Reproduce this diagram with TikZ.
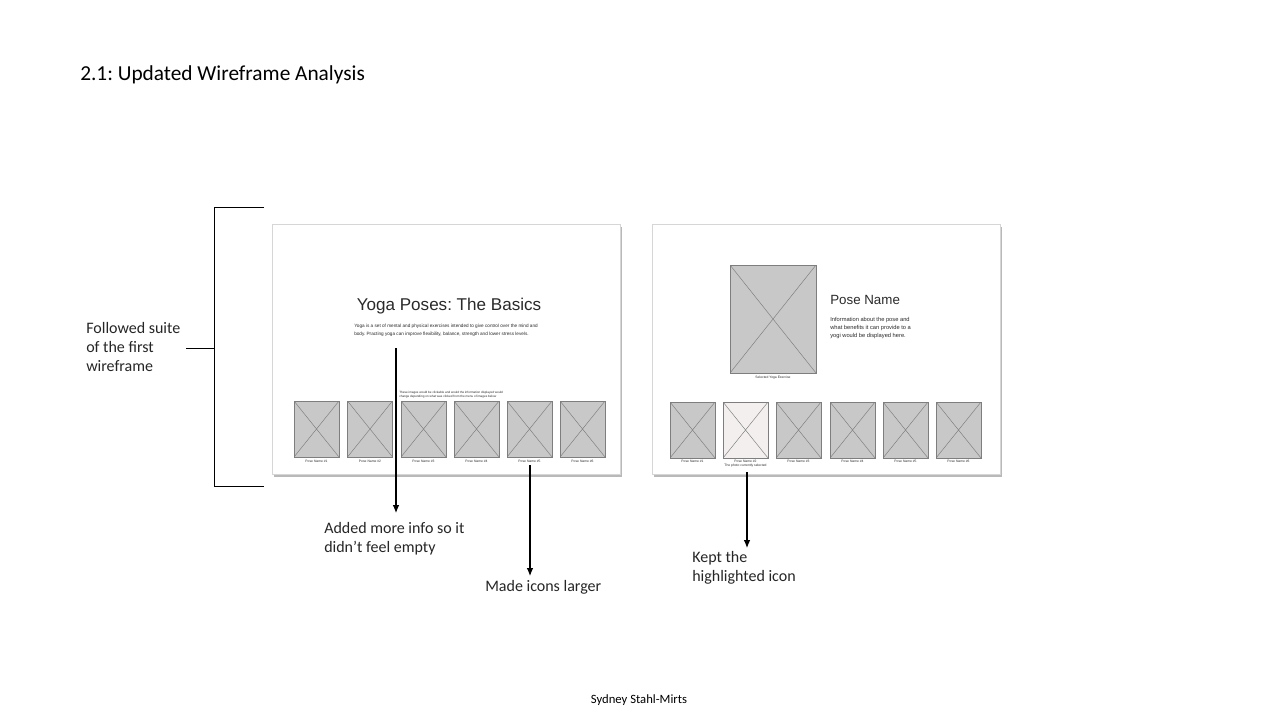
\documentclass[tikz,border=0pt]{standalone}
\usepackage{fontspec}
\setmainfont{Carlito}
\newfontfamily\wf{Liberation Sans}
\usetikzlibrary{arrows.meta,shadows}
\definecolor{thumbfill}{HTML}{C8C8C8}
\definecolor{thumbdraw}{HTML}{7E7E7E}
\definecolor{selfill}{HTML}{F3EFEF}
\definecolor{framedraw}{HTML}{D6D6D6}
\definecolor{wftext}{HTML}{2A2A2A}
\tikzset{
  ann/.style={font=\fontsize{12}{14.25}\selectfont, align=left, anchor=base west, inner sep=0pt, text=black!85},
  frame/.style={draw=framedraw, line width=0.5pt, fill=white, inner sep=0pt,
     minimum width=261pt, minimum height=187.5pt,
     drop shadow={shadow xshift=1.2pt, shadow yshift=-2.2pt, opacity=0.55, fill=black!50}},
  thumb/.style={draw=thumbdraw, fill=thumbfill, line width=0.5pt, inner sep=0pt,
     minimum width=33.75pt, minimum height=42pt,
     path picture={\draw[thumbdraw, line width=0.35pt]
        (path picture bounding box.north west) -- (path picture bounding box.south east)
        (path picture bounding box.south west) -- (path picture bounding box.north east);}},
  tlabel/.style={font=\wf\fontsize{2.5}{3}\selectfont, text=wftext, inner sep=0pt, anchor=base, align=center},
  bracket/.style={line width=0.75pt, black},
  arr/.style={line width=0.8pt, black, -{Latex[length=6pt,width=5pt]}},
}
\begin{document}
\frenchspacing
\begin{tikzpicture}[x=0.75pt,y=-0.75pt]
\useasboundingbox (0,0) rectangle (1280,720);
\fill[white] (0,0) rectangle (1280,720);

% title
\node[anchor=base west, inner sep=0pt, font=\fontsize{16}{19}\selectfont] (title) at (80,81) {2.1: Updated Wireframe Analysis};

% bracket
\coordinate (bt) at (264,208);
\coordinate (btl) at (214,208);
\coordinate (bbl) at (214,486);
\coordinate (bb) at (264,486);
\coordinate (bm) at (214,348);
\coordinate (bmo) at (186,348);
\draw[bracket] (bt) -- (btl) -- (bbl) -- (bb);
\draw[bracket] (bm) -- (bmo);
\node[ann] (follow) at (86,371) {Followed suite\\of the first\\wireframe};

% frames
\node[frame] (f1) at (446,349) {};
\node[frame] (f2) at (826,349) {};

% frame 1 content
\node[anchor=base, inner sep=0pt, font=\wf\fontsize{12.8}{15}\selectfont, text=wftext] (f1title) at (449,310) {Yoga Poses: The Basics};
\node[anchor=base west, inner sep=0pt, align=left, font=\wf\fontsize{3.5}{6}\selectfont, text=wftext] (f1para) at (354,335)
  {Yoga is a set of mental and physical exercises intended to give control over the mind and\\body. Practing yoga can improve flexibility, balance, strength and lower stress levels.};
\node[anchor=base west, inner sep=0pt, align=left, font=\wf\fontsize{2.3}{3}\selectfont, text=wftext] (f1note) at (399,397.5)
  {These images would be clickable and would the information displayed would\\change depending on what was clicked from the menu of images below};

\foreach \i/\x in {1/316.5,2/370,3/423.5,4/476.5,5/529.5,6/582.5}{
  \node[thumb] (t\i) at (\x,429) {};
  \node[tlabel] (tl\i) at (\x,462) {Pose Name \#\i};
}

% frame 2 content
\node[thumb, minimum width=64.5pt, minimum height=81pt] (big) at (773,319) {};
\node[tlabel] (bigl) at (773,378) {Selected Yoga Exercise};
\node[anchor=base west, inner sep=0pt, font=\wf\fontsize{10}{12}\selectfont, text=wftext] (pname) at (830,304) {Pose Name};
\node[anchor=base west, inner sep=0pt, align=left, font=\wf\fontsize{4.3}{6}\selectfont, text=wftext] (pinfo) at (830,337)
  {Information about the pose and\\what benefits it can provide to a\\yogi would be displayed here.};

\foreach \i/\x in {1/692.5,3/798.5,4/852.5,5/905.5,6/958.5}{
  \node[thumb] (u\i) at (\x,430) {};
  \node[tlabel] (ul\i) at (\x,462) {Pose Name \#\i};
}
\node[thumb, fill=selfill] (u2) at (745.5,430) {};
\node[tlabel] (ul2) at (745.5,466) {Pose Name \#2\\The photo currently selected};

% arrows
\coordinate (a1s) at (396,348);
\coordinate (a1e) at (396,513);
\draw[arr] (a1s) -- (a1e);
\coordinate (a2s) at (530,465);
\coordinate (a2e) at (530,576);
\draw[arr] (a2s) -- (a2e);
\coordinate (a3s) at (747,472);
\coordinate (a3e) at (747,548);
\draw[arr] (a3s) -- (a3e);

% annotations
\node[ann] (added) at (324,552) {Added more info so it\\didn’t feel empty};
\node[ann] (larger) at (485,591) {Made icons larger};
\node[ann] (kept) at (692,581) {Kept the\\highlighted icon};

% footer
\node[anchor=base, inner sep=0pt, font=\fontsize{9.5}{11}\selectfont] (footer) at (639,703) {Sydney Stahl-Mirts};
\end{tikzpicture}
\end{document}
